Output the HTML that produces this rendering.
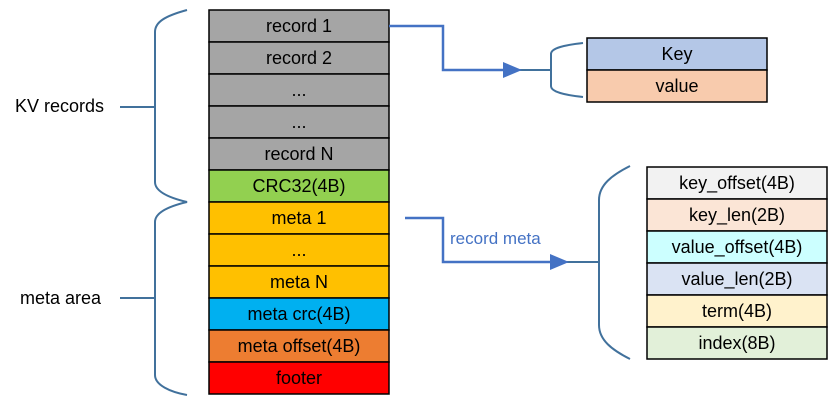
<!DOCTYPE html>
<html><head><meta charset="utf-8"><style>
body{margin:0;background:#fff;}
svg{display:block;font-family:"Liberation Sans",sans-serif;}
</style></head><body>
<svg width="840" height="402" viewBox="0 0 840 402">
<g id="main"></g>
<g id="kv"></g>
<g id="meta"></g>
<g fill="none" stroke="#41719C" stroke-width="2">
<path d="M187,10 C165,16 155,22 155,32 L155,182 C155,192 170,198 187,202 C170,206 155,212 155,222 L155,375 C155,385 170,392 187,395"/>
<path d="M120,107 L155,107"/>
<path d="M120,298 L155,298"/>
<path d="M583,43 C565,45 551,48 551,54 L551,86 C551,92 565,95 583,97"/>
<path d="M518,70 L551,70"/>
<path d="M630,166 C612,175 599,185 599,200 L599,325 C599,340 612,350 630,359"/>
<path d="M565,262 L599,262"/>
</g>
<g fill="none" stroke="#4472C4" stroke-width="2.5">
<path d="M389,26 L443,26 L443,70 L508,70"/>
<path d="M405,218 L443,218 L443,262 L555,262"/>
</g>
<polygon points="503,62 522,70 503,78" fill="#4472C4"/>
<polygon points="550,254 569,262 550,270" fill="#4472C4"/>
<text x="450" y="244" font-size="17" fill="#4472C4">record meta</text>
<text x="15" y="112" font-size="18" fill="#000">KV records</text>
<text x="20" y="304" font-size="18" fill="#000">meta area</text>
</svg>
<script>
const mainLabels=["record 1","record 2","...","...","record N","CRC32(4B)","meta 1","...","meta N","meta crc(4B)","meta offset(4B)","footer"];
const mainColors=["#A5A5A5","#A5A5A5","#A5A5A5","#A5A5A5","#A5A5A5","#92D050","#FFC000","#FFC000","#FFC000","#00B0F0","#ED7D31","#FF0000"];
const kvLabels=["Key","value"];
const kvColors=["#B4C7E7","#F8CBAD"];
const metaLabels=["key_offset(4B)","key_len(2B)","value_offset(4B)","value_len(2B)","term(4B)","index(8B)"];
const metaColors=["#F2F2F2","#FBE5D6","#CCFFFF","#DAE3F3","#FFF2CC","#E2F0D9"];
const NS="http://www.w3.org/2000/svg";
function table(gid,labels,colors,x,y,w,h,names){
  const g=document.getElementById(gid);
  labels.forEach((l,i)=>{
    const r=document.createElementNS(NS,"rect");
    r.setAttribute("x",x);r.setAttribute("y",y+i*h);r.setAttribute("width",w);r.setAttribute("height",h);
    r.setAttribute("fill",colors[i]);r.setAttribute("stroke","#000");r.setAttribute("stroke-width","1.5");
    
    
    g.appendChild(r);
    const t=document.createElementNS(NS,"text");
    t.setAttribute("x",x+w/2);t.setAttribute("y",y+i*h+h/2+6);t.setAttribute("text-anchor","middle");
    t.setAttribute("font-size","18");t.textContent=l;
    
    
    g.appendChild(t);
  });
}
table("main",mainLabels,mainColors,209,10,180,32,"main");
table("kv",kvLabels,kvColors,587,38,180,32,"kv");
table("meta",metaLabels,metaColors,647,167,180,32,"meta");
</script>
</body></html>
